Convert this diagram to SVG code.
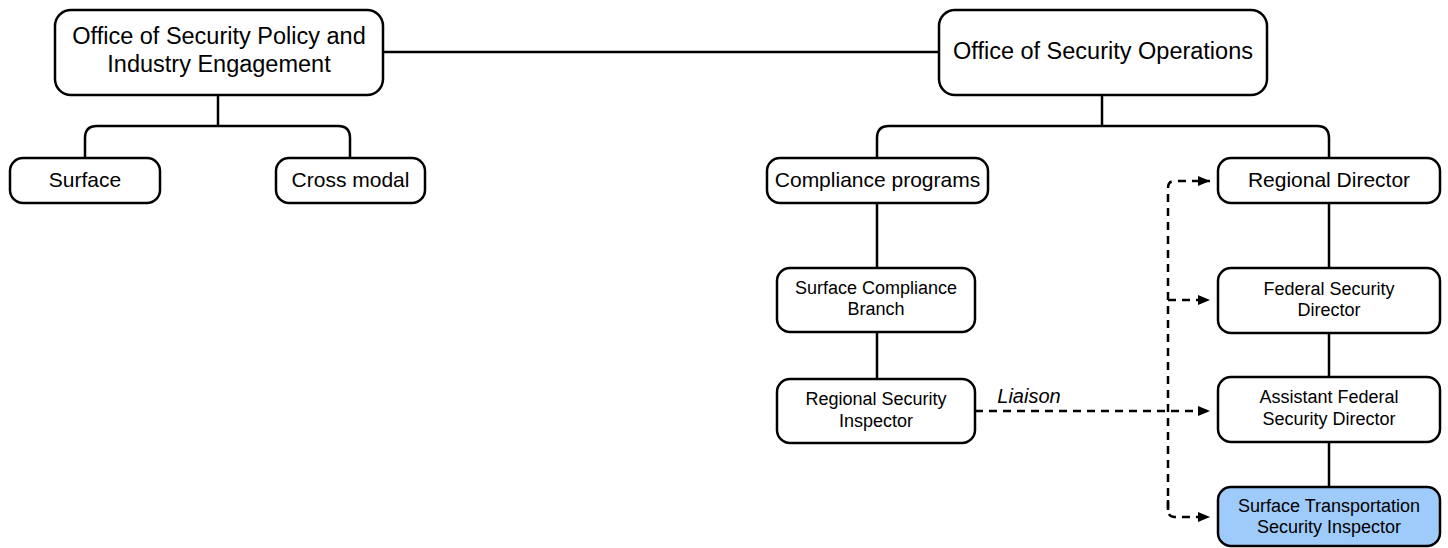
<svg xmlns="http://www.w3.org/2000/svg" width="1448" height="548" viewBox="0 0 1448 548">
<style>
.box{fill:#fff;stroke:#000;stroke-width:2.5}
.hl{fill:#9fcbfa}
.t{font-family:"Liberation Sans",Arial,sans-serif;fill:#000;text-anchor:middle}
.big{font-size:23.5px}
.mid{font-size:21px}
.sm{font-size:18px}
.ln{fill:none;stroke:#000;stroke-width:2.5}
.dash{fill:none;stroke:#000;stroke-width:2.5;stroke-dasharray:8 6}
</style>
<defs>
<marker id="arr" markerUnits="userSpaceOnUse" markerWidth="12" markerHeight="12" viewBox="0 0 12 12" refX="12" refY="6" orient="auto">
<path d="M0,1 L12,6 L0,11 Z" fill="#000"/>
</marker>
</defs>
<rect width="1448" height="548" fill="#fff"/>
<g id="connectors">
<path class="ln" d="M383,52 H939"/>
<path class="ln" d="M218,95 V126"/>
<path class="ln" d="M85,158 V138 Q85,126 97,126 H338 Q350,126 350,138 V158"/>
<path class="ln" d="M1102,95 V126"/>
<path class="ln" d="M877,158 V138 Q877,126 889,126 H1317 Q1329,126 1329,138 V158"/>
<path class="ln" d="M877,203 V268"/>
<path class="ln" d="M877,332 V379"/>
<path class="ln" d="M1329,203 V268"/>
<path class="ln" d="M1329,333 V377"/>
<path class="ln" d="M1329,442 V487"/>
<path class="dash" d="M975,411 H1210" marker-end="url(#arr)"/>
<path class="dash" d="M1168,300 H1210" marker-end="url(#arr)"/>
<path class="dash" d="M1168,510 V188 Q1168,181 1175,181 H1210" marker-end="url(#arr)"/>
<path class="dash" d="M1168,500 V510 Q1168,517 1175,517 H1210" marker-end="url(#arr)"/>
<text class="t" x="1029" y="403" style="font-size:20px;font-style:italic">Liaison</text>
</g>
<g id="n-policy">
<rect class="box" x="55" y="10" width="328" height="85" rx="16"/>
<text class="t big" x="219" y="44">Office of Security Policy and</text>
<text class="t big" x="219" y="72">Industry Engagement</text>
</g>
<g id="n-surface">
<rect class="box" x="10" y="158" width="150" height="45" rx="13"/>
<text class="t mid" x="85" y="187">Surface</text>
</g>
<g id="n-crossmodal">
<rect class="box" x="276" y="158" width="149" height="45" rx="13"/>
<text class="t mid" x="350.5" y="187">Cross modal</text>
</g>
<g id="n-operations">
<rect class="box" x="939" y="10" width="328" height="85" rx="16"/>
<text class="t big" x="1103" y="59">Office of Security Operations</text>
</g>
<g id="n-compliance">
<rect class="box" x="767" y="158" width="221" height="45" rx="13"/>
<text class="t mid" x="877.5" y="187">Compliance programs</text>
</g>
<g id="n-regdir">
<rect class="box" x="1218" y="158" width="222" height="45" rx="13"/>
<text class="t mid" x="1329" y="187">Regional Director</text>
</g>
<g id="n-scb">
<rect class="box" x="777" y="268" width="198" height="64" rx="13"/>
<text class="t sm" x="876" y="294">Surface Compliance</text>
<text class="t sm" x="876" y="315">Branch</text>
</g>
<g id="n-rsi">
<rect class="box" x="777" y="379" width="198" height="64" rx="13"/>
<text class="t sm" x="876" y="405">Regional Security</text>
<text class="t sm" x="876" y="427">Inspector</text>
</g>
<g id="n-fsd">
<rect class="box" x="1218" y="268" width="222" height="65" rx="13"/>
<text class="t sm" x="1329" y="295">Federal Security</text>
<text class="t sm" x="1329" y="316">Director</text>
</g>
<g id="n-afsd">
<rect class="box" x="1218" y="377" width="222" height="65" rx="13"/>
<text class="t sm" x="1329" y="403">Assistant Federal</text>
<text class="t sm" x="1329" y="425">Security Director</text>
</g>
<g id="n-stsi">
<rect class="box hl" x="1218" y="487" width="222" height="59" rx="13"/>
<text class="t sm" x="1329" y="512">Surface Transportation</text>
<text class="t sm" x="1329" y="533">Security Inspector</text>
</g>
</svg>
